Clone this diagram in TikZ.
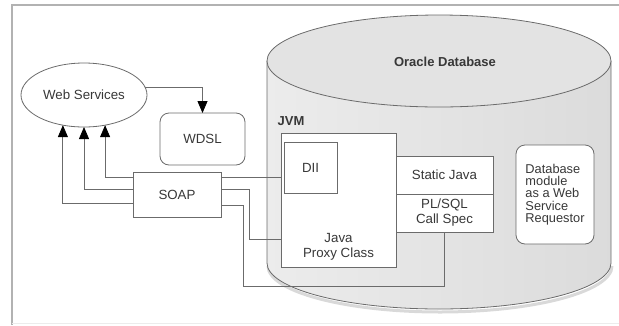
\documentclass[tikz,border=0pt]{standalone}
\usepackage{fontspec}
\setmainfont{Liberation Sans}
\usetikzlibrary{arrows.meta, positioning, shapes.geometric}

\definecolor{linegray}{gray}{0.42}
\definecolor{textgray}{gray}{0.22}
\definecolor{topgray}{gray}{0.89}

\begin{document}
\begin{tikzpicture}[x=1pt, y=-1pt,
    every node/.style={font=\fontsize{13.3}{15}\selectfont, text=textgray},
    line/.style={draw=linegray, line width=0.8pt},
    arrowto/.style={line, -{Triangle[length=12pt, width=10pt, color=black, fill=black]}},
    box/.style={line, fill=white, inner sep=0pt, outer sep=0pt},
    roundbox/.style={box, rounded corners=9pt},
    boldtext/.style={font=\bfseries\fontsize{13}{15}\selectfont}]

    \useasboundingbox (0,0) rectangle (619,325);

    % frame
    \draw[gray!60, line width=1.5pt] (12,325) -- (12,5) -- (619,5);
    \draw[gray!15] (12,323) -- (619,323);

    % database cylinder
    \draw[gray!30, line width=3pt] (268,266) arc[start angle=180, end angle=360, x radius=172pt, y radius=46pt];
    \shade[left color=gray!15, middle color=gray!7, right color=gray!28]
        (267,61) -- (267,263) arc[start angle=180, end angle=360, x radius=172pt, y radius=46pt] -- (611,61) -- cycle;
    \draw[line] (267,61) -- (267,263) arc[start angle=180, end angle=360, x radius=172pt, y radius=46pt] -- (611,61);
    \draw[line, fill=topgray] (439,61) ellipse[x radius=172pt, y radius=46pt];
    \node[boldtext] (oracle) at (445,62) {Oracle Database};

    % outside the database
    \node[box, ellipse, minimum width=126pt, minimum height=64pt] (ws) at (84,95) {Web Services};
    \node[roundbox, minimum width=85pt, minimum height=52pt] (wdsl) at (202.5,139) {WDSL};
    \node[box, minimum width=88pt, minimum height=45pt] (soap) at (177,194.5) {SOAP};

    % inside the database
    \node[boldtext] (jvm) at (291,121) {JVM};
    \node[box, minimum width=115pt, minimum height=134pt] (proxy) at (338.5,200) {};
    \node[align=center, anchor=south] (proxytext) at ([yshift=3pt]proxy.south) {Java\\Proxy Class};
    \node[box, minimum width=53pt, minimum height=51pt] (dii) at (310.5,167.5) {DII};
    \node[box, minimum width=97pt, minimum height=38pt] (static) at (444.5,175) {Static Java};
    \node[box, minimum width=97pt, minimum height=38pt, align=center] (plsql) at (444.5,213) {PL/SQL\\Call Spec};
    \node[roundbox, minimum width=78pt, minimum height=99pt, align=left,
        font=\fontsize{12.8}{12.3}\selectfont] (dbmod) at (555,194.5)
        {Database\\module\\as a Web\\Service\\Requestor};

    % connectors
    \draw[arrowto] (ws.7) -| (wdsl.north);
    \draw[arrowto] (soap.west |- 0,177) -| (ws.305);
    \draw[arrowto] (soap.west |- 0,189) -| (ws.south);
    \draw[arrowto] (soap.west |- 0,203) -| (ws.235);
    \draw[line] (soap.east |- 0,177) -- (proxy.west |- 0,177);
    \draw[line] (soap.east |- 0,189) -| (249,239) -- (proxy.west |- 0,239);
    \draw[line] (soap.east |- 0,205) -| (243,286) -| (plsql.south);
\end{tikzpicture}
\end{document}
